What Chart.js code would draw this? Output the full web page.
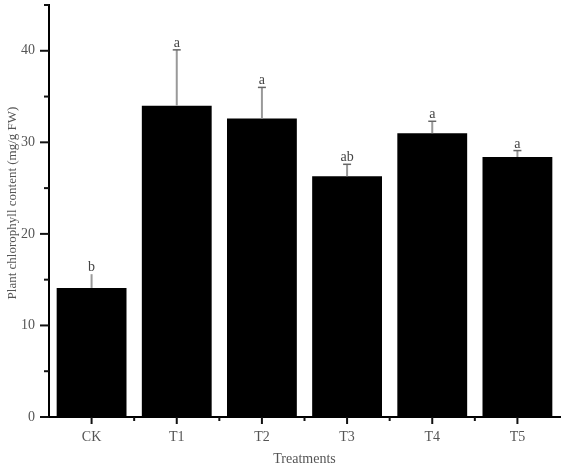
<!DOCTYPE html>
<html>
<head>
<meta charset="utf-8">
<script src="https://cdn.jsdelivr.net/npm/chart.js@4.4.0/dist/chart.umd.min.js"></script>
<style>
  html, body { margin: 0; padding: 0; background: #fff; }
  #wrap { width: 567px; height: 472px; }
</style>
</head>
<body>
<div id="wrap"><canvas id="chart"></canvas></div>
<script>
// values
const categories = ['CK', 'T1', 'T2', 'T3', 'T4', 'T5'];
const means = [14.1, 34.0, 32.6, 26.3, 31.0, 28.4];
const errors = [1.5, 6.1, 3.4, 1.3, 1.3, 0.7];
const letters = ['b', 'a', 'a', 'ab', 'a', 'a'];
const yTickValues = [0, 5, 10, 15, 20, 25, 30, 35, 40, 45];

const serif = 'Liberation Serif';
const textColor = '#555';

// error bars + significance letters
const errorBarPlugin = {
    id: 'errorBars',
    afterDatasetsDraw(chart) {
        const { ctx, scales: { x, y } } = chart;
        ctx.save();
        means.forEach((m, i) => {
            const cx = x.getPixelForValue(i);
            const yTop = y.getPixelForValue(m + errors[i]);
            const yBar = y.getPixelForValue(m);
            ctx.strokeStyle = '#999';
            ctx.lineWidth = 2;
            ctx.beginPath();
            ctx.moveTo(cx, yBar);
            ctx.lineTo(cx, yTop);
            ctx.stroke();
            if (i > 0) {
                ctx.strokeStyle = '#666';
                ctx.lineWidth = 1.5;
                ctx.beginPath();
                ctx.moveTo(cx - 4, yTop);
                ctx.lineTo(cx + 4, yTop);
                ctx.stroke();
            }
            ctx.fillStyle = '#444';
            ctx.font = `14px "${serif}"`;
            ctx.textAlign = 'center';
            ctx.textBaseline = 'alphabetic';
            ctx.fillText(letters[i], cx, yTop - 3);
        });
        ctx.restore();
    }
};

// outward major/minor ticks and the rotated y title
const axisDecorPlugin = {
    id: 'axisDecor',
    afterDraw(chart) {
        const { ctx, chartArea, scales: { x, y } } = chart;
        ctx.save();
        ctx.strokeStyle = '#111';
        ctx.lineWidth = 2;
        yTickValues.forEach(v => {
            const py = y.getPixelForValue(v);
            const len = v % 10 === 0 ? 9 : 5;
            ctx.beginPath();
            ctx.moveTo(chartArea.left, py);
            ctx.lineTo(chartArea.left - len, py);
            ctx.stroke();
        });
        categories.forEach((c, i) => {
            const px = x.getPixelForValue(i);
            ctx.beginPath();
            ctx.moveTo(px, chartArea.bottom);
            ctx.lineTo(px, chartArea.bottom + 7);
            ctx.stroke();
            if (i > 0) {
                const bx = (px + x.getPixelForValue(i - 1)) / 2;
                ctx.beginPath();
                ctx.moveTo(bx, chartArea.bottom);
                ctx.lineTo(bx, chartArea.bottom + 4);
                ctx.stroke();
            }
        });
        ctx.translate(13, 203);
        ctx.rotate(-Math.PI / 2);
        ctx.fillStyle = textColor;
        ctx.font = `13px "${serif}"`;
        ctx.textAlign = 'center';
        ctx.textBaseline = 'middle';
        ctx.fillText('Plant chlorophyll content (mg/g FW)', 0, 0);
        ctx.restore();
    }
};

new Chart(document.getElementById('chart'), {
    type: 'bar',
    data: {
        labels: categories,
        datasets: [{
            data: means,
            backgroundColor: '#000',
            borderWidth: 0,
            barPercentage: 0.82,
            categoryPercentage: 1
        }]
    },
    options: {
        responsive: true,
        maintainAspectRatio: false,
        animation: false,
        layout: { padding: { top: 5, right: 7, left: 0, bottom: 0 } },
        plugins: { legend: { display: false }, tooltip: { enabled: false } },
        scales: {
            x: {
                grid: { display: true, drawOnChartArea: false, drawTicks: false },
                border: { display: true, color: '#000', width: 2 },
                ticks: { font: { family: serif, size: 14 }, color: textColor, padding: 12 },
                title: { display: true, text: 'Treatments', font: { family: serif, size: 14 }, color: textColor, padding: { top: 4, bottom: 4 } },
                afterFit(s) { s.height = 55; s.paddingLeft = 0; s.paddingRight = 0; }
            },
            y: {
                min: 0,
                max: 45,
                grid: { display: true, drawOnChartArea: false, drawTicks: false },
                border: { display: true, color: '#000', width: 2 },
                ticks: {
                    stepSize: 5,
                    font: { family: serif, size: 14 },
                    color: textColor,
                    padding: 14,
                    callback: v => (v % 10 === 0 && v < 45 ? v : '')
                },
                afterFit(s) { s.width = 49; s.paddingTop = 0; s.paddingBottom = 0; }
            }
        }
    },
    plugins: [errorBarPlugin, axisDecorPlugin]
});
</script>
</body>
</html>
